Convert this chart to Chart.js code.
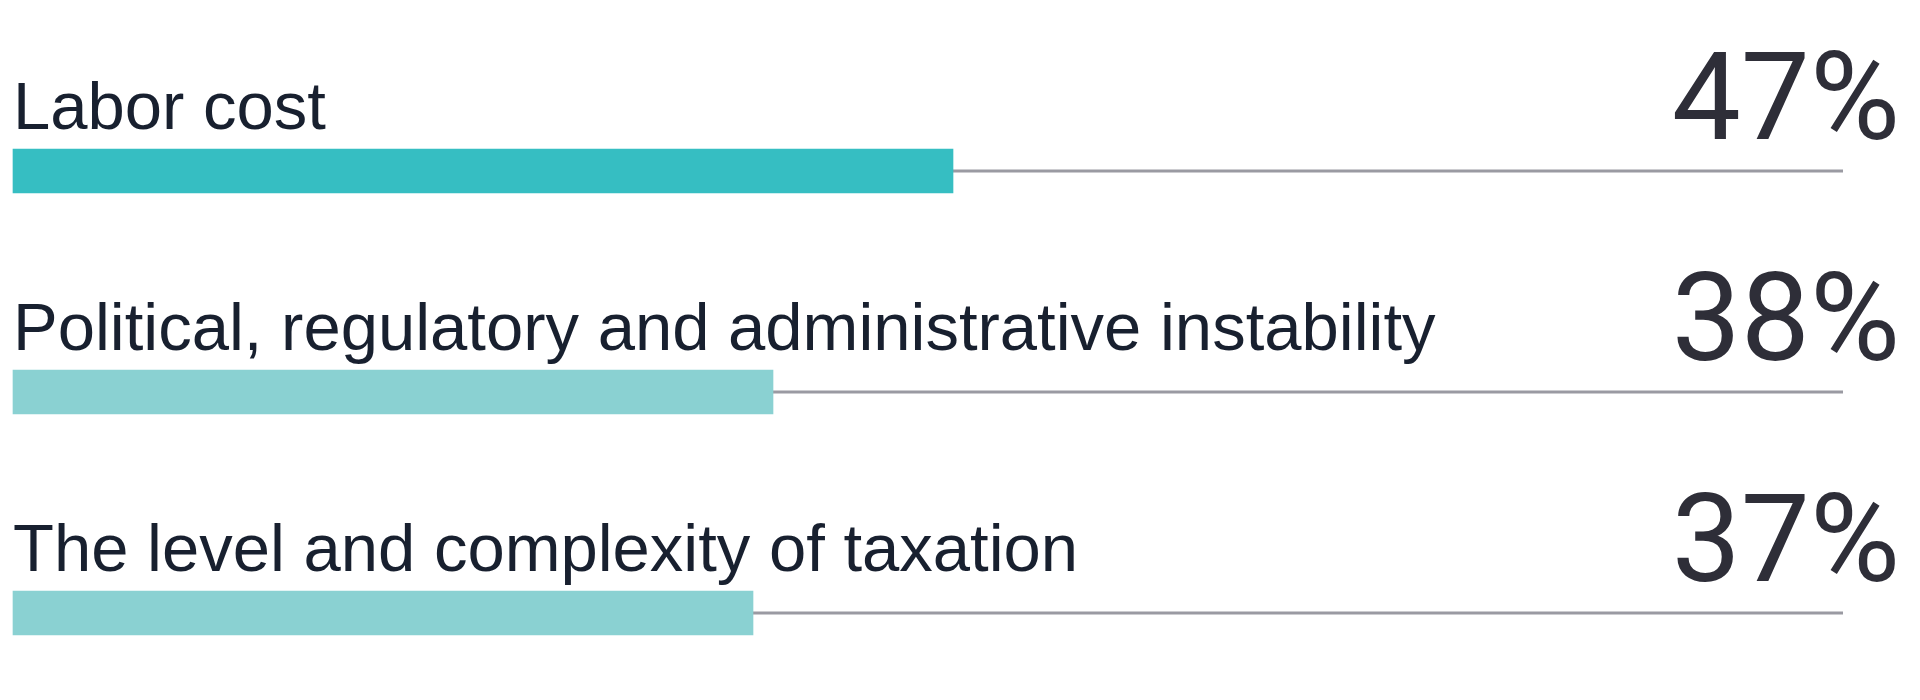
<!DOCTYPE html>
<html>
<head>
<meta charset="utf-8">
<script src="https://cdn.jsdelivr.net/npm/chart.js@4.4.1/dist/chart.umd.min.js"></script>
<style>
  html, body { margin: 0; padding: 0; background: #ffffff; overflow: hidden; }
  #wrap { width: 1920px; height: 700px; position: relative; }
</style>
</head>
<body>
<div id="wrap"><canvas id="chart"></canvas></div>
<script>
// ---- data ----
const categories = [
  "Labor cost",
  "Political, regulatory and administrative instability",
  "The level and complexity of taxation"
];
const values = [47, 38, 37];
const barColors = ["#36BEC2", "#8AD1D2", "#8AD1D2"];

// ---- decoration plugin: track lines, category labels, big percentages ----
const rowDecor = {
  id: 'rowDecor',
  beforeDatasetsDraw(chart) {
    const { ctx, chartArea, scales: { y } } = chart;
    ctx.save();
    ctx.strokeStyle = '#9a9aa2';
    ctx.lineWidth = 3;
    categories.forEach((c, i) => {
      const py = y.getPixelForValue(i);
      ctx.beginPath();
      ctx.moveTo(chartArea.left, py);
      ctx.lineTo(chartArea.right, py);
      ctx.stroke();
    });
    ctx.restore();
  },
  afterDatasetsDraw(chart) {
    const { ctx, chartArea, scales: { y } } = chart;
    ctx.save();
    ctx.textBaseline = 'alphabetic';
    categories.forEach((c, i) => {
      const py = y.getPixelForValue(i);
      ctx.font = '67px "Liberation Sans", Arial, sans-serif';
      ctx.fillStyle = '#18202f';
      ctx.textAlign = 'left';
      ctx.fillText(c, chartArea.left, py - 42);
      ctx.font = '400 123px Roboto, "Open Sans", sans-serif';
      ctx.fillStyle = '#2e2e38';
      ctx.textAlign = 'right';
      ctx.fillText(values[i] + '%', chart.width - 20, py - 32);
    });
    ctx.restore();
  }
};

new Chart(document.getElementById('chart'), {
  type: 'bar',
  data: {
    labels: categories,
    datasets: [{
      data: values,
      backgroundColor: barColors,
      borderWidth: 0,
      barThickness: 44,
      clip: false
    }]
  },
  options: {
    indexAxis: 'y',
    responsive: true,
    maintainAspectRatio: false,
    devicePixelRatio: 1,
    animation: false,
    layout: { padding: { top: 171, bottom: 87, left: 13, right: 77 } },
    scales: {
      x: { min: 0, max: 91.5, display: false },
      y: { type: 'category', display: false, offset: false }
    },
    plugins: {
      legend: { display: false },
      tooltip: { enabled: false }
    }
  },
  plugins: [rowDecor]
});
</script>
</body>
</html>
